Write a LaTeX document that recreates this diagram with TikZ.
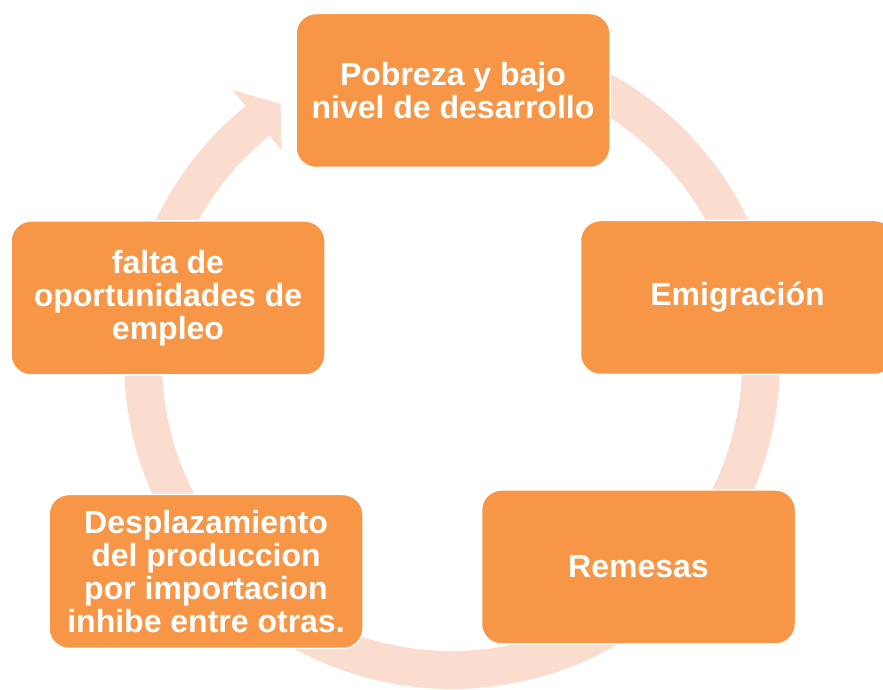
\documentclass[tikz,border=0pt]{standalone}
\usepackage{fontspec}
\setmainfont{Liberation Sans}
\usetikzlibrary{positioning, calc}

\definecolor{colorBox}{RGB}{247,150,70}    % Orange
\definecolor{colorRing}{RGB}{251,221,208}  % Light peach

\begin{document}
\begin{tikzpicture}[
    x=1pt, y=1pt,
    font=\bfseries\fontsize{32}{33}\selectfont,
    on grid,
    block/.style={
        draw=white,
        line width=1.5pt,
        fill=colorBox,
        text=white,
        rounded corners=20pt,
        align=center,
        minimum width=314pt,
        minimum height=154pt,
        inner sep=0pt
    },
    ring/.style={colorRing, line width=38pt}
]

\clip (0,0) rectangle (883,690);

%--- Ring behind the blocks ---
\coordinate (hub) at (452,329);

\draw[ring] ($(hub)+(100:309)$) arc[start angle=100, end angle=-231, radius=309];
\fill[colorRing]
    ($(hub)+(129:271)$) -- ($(hub)+(123.7:309)$) -- ($(hub)+(129:349)$) -- cycle;

%--- Blocks, clockwise from the top ---
\node[block] (pobreza) at (453,599.5)
{Pobreza y bajo\\nivel de desarrollo};

\node[block, below right=207pt and 284.5pt of pobreza] (emigracion)
{Emigración};

\node[block, below left=269.5pt and 99pt of emigracion] (remesas)
{Remesas};

\node[block, below left=4.5pt and 432.5pt of remesas] (desplazamiento)
{Desplazamiento\\del produccion\\por importacion\\inhibe entre otras.};

\node[block, above left=273.5pt and 38pt of desplazamiento] (falta)
{falta de\\oportunidades de\\empleo};

\end{tikzpicture}
\end{document}
